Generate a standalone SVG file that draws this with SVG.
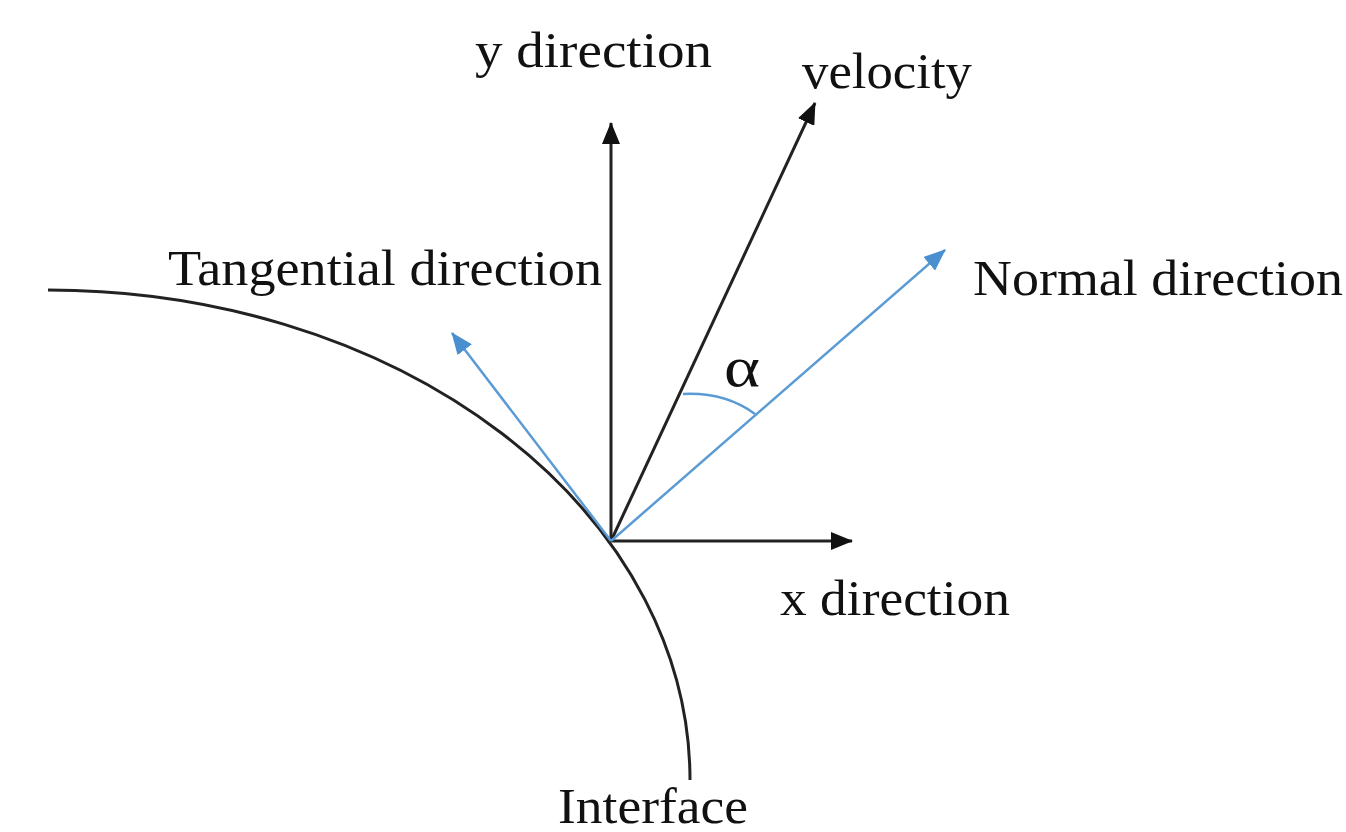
<svg xmlns="http://www.w3.org/2000/svg" width="1346" height="832" viewBox="0 0 1346 832">
<style>
text{font-family:"Liberation Serif","Times New Roman",serif;font-size:50px;fill:#111}
.blk{stroke:#222;stroke-width:3;fill:none}
.blu{stroke:#5b9bd5;stroke-width:2.5;fill:none}
</style>
<defs>
<marker id="ab" viewBox="0 0 22 18" refX="21" refY="9" markerWidth="22" markerHeight="18" markerUnits="userSpaceOnUse" orient="auto"><path d="M0 0L22 9L0 18Z" fill="#111"/></marker>
<marker id="au" viewBox="0 0 22 18" refX="21" refY="9" markerWidth="22" markerHeight="18" markerUnits="userSpaceOnUse" orient="auto"><path d="M0 0L22 9L0 18Z" fill="#4a8fd0"/></marker>
</defs>
<rect width="1346" height="832" fill="#fff"/>
<g id="interface"><path class="blk" d="M48 290 A642 490 0 0 1 690 780"/></g>
<g id="connectors">
<line class="blk" x1="611" y1="542" x2="611" y2="123" marker-end="url(#ab)"/>
<line class="blk" x1="611" y1="541" x2="852" y2="541" marker-end="url(#ab)"/>
<line class="blk" x1="611" y1="541" x2="815" y2="103" marker-end="url(#ab)"/>
<line class="blu" x1="611" y1="541" x2="945" y2="250" marker-end="url(#au)"/>
<line class="blu" x1="611" y1="541" x2="452" y2="333" marker-end="url(#au)"/>
<path class="blu" d="M683 394 Q725 392 755 414"/>
</g>
<g id="labels">
<text x="475" y="67" textLength="237" lengthAdjust="spacingAndGlyphs">y direction</text>
<text x="802" y="88" textLength="170" lengthAdjust="spacingAndGlyphs">velocity</text>
<text x="168" y="285" textLength="434" lengthAdjust="spacingAndGlyphs">Tangential direction</text>
<text x="973" y="295" textLength="370" lengthAdjust="spacingAndGlyphs">Normal direction</text>
<text x="780" y="615" textLength="230" lengthAdjust="spacingAndGlyphs">x direction</text>
<text x="558" y="823" textLength="190" lengthAdjust="spacingAndGlyphs">Interface</text>
<text x="724" y="386" style="font-size:56px" textLength="36" lengthAdjust="spacingAndGlyphs">α</text>
</g>
</svg>
